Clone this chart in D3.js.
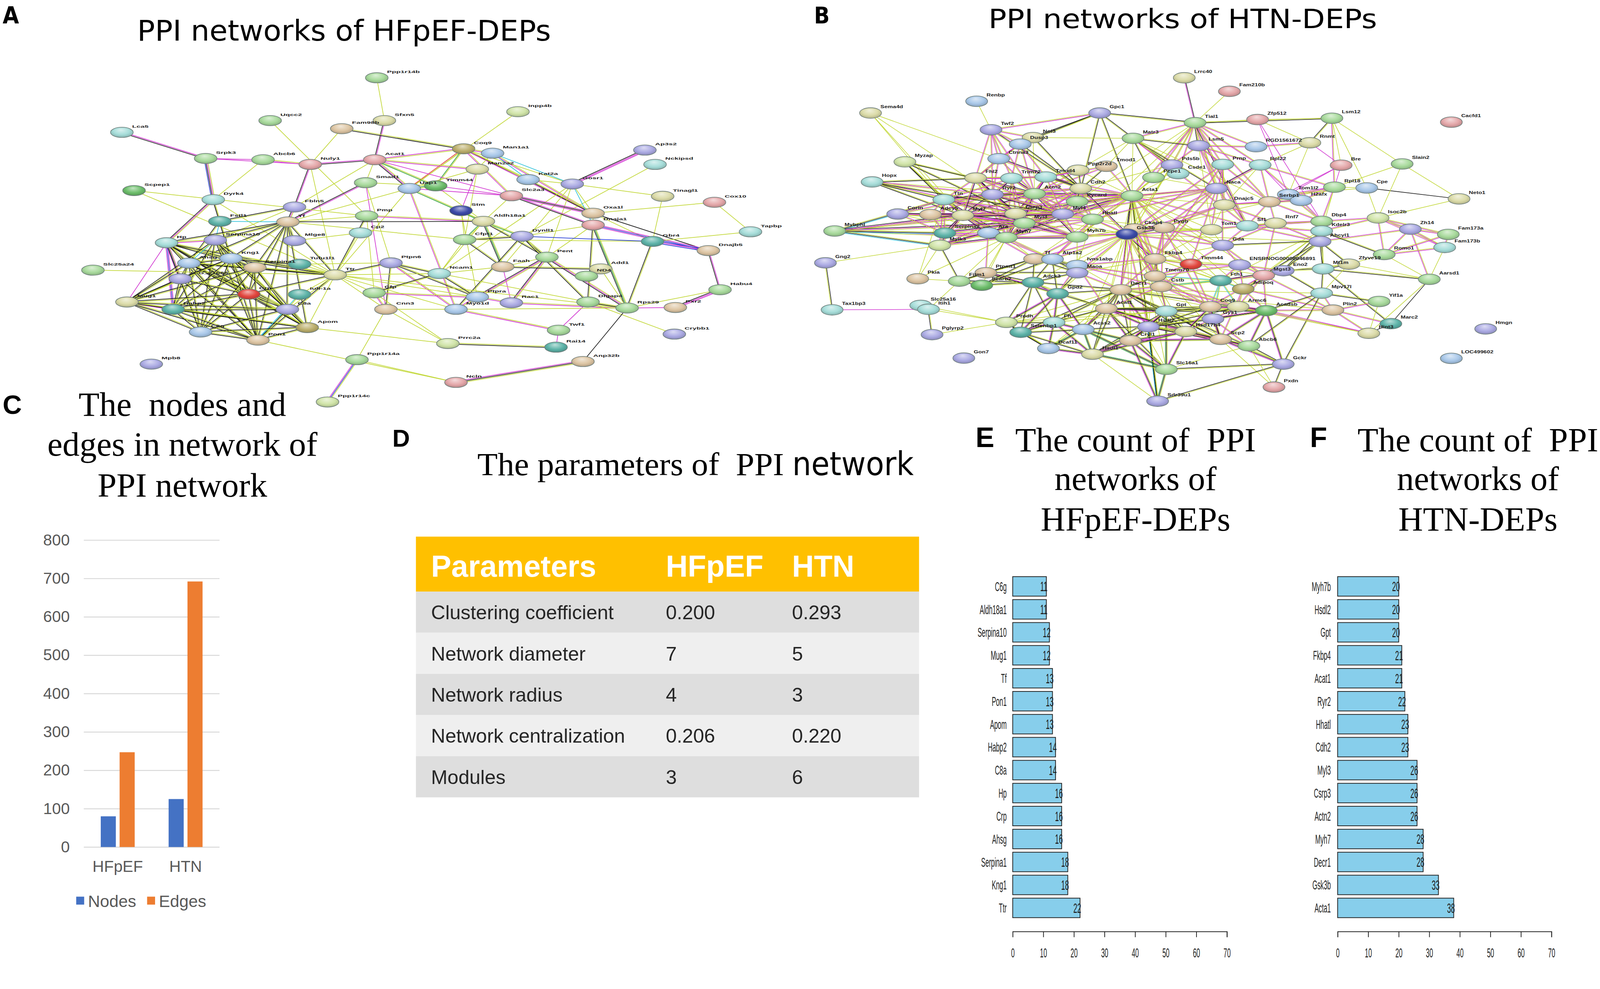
<!DOCTYPE html>
<html>
<head>
<meta charset="utf-8">
<script src="https://cdn.jsdelivr.net/npm/d3@7"></script>
<style>
html, body { margin: 0; padding: 0; background: #fff; overflow: hidden; }
#fig { display: block; width: 100vw; height: 100vh; }
svg text { white-space: pre; }
</style>
</head>
<body>
<svg id="fig" viewBox="0 0 4220 2533" preserveAspectRatio="xMinYMin meet"></svg>
<script>
// ---- panel C : nodes and edges per network
var groups = ["HFpEF", "HTN"];
var seriesNames = ["Nodes", "Edges"];
var nodeCounts = [80, 125];
var edgeCounts = [247, 692];
var countTicks = [0, 100, 200, 300, 400, 500, 600, 700, 800];

// ---- panel D : network parameters
var paramHeader = ["Parameters", "HFpEF", "HTN"];
var paramNames = ["Clustering coefficient", "Network diameter", "Network radius", "Network centralization", "Modules"];
var paramHFpEF = ["0.200", "7", "4", "0.206", "3"];
var paramHTN = ["0.293", "5", "3", "0.220", "6"];

// ---- panels E, F : hub degree
var hfpefGenes = ["C6g", "Aldh18a1", "Serpina10", "Mug1", "Tf", "Pon1", "Apom", "Habp2", "C8a", "Hp", "Crp", "Ahsg", "Serpina1", "Kng1", "Ttr"];
var hfpefDegree = [11, 11, 12, 12, 13, 13, 13, 14, 14, 16, 16, 16, 18, 18, 22];
var htnGenes = ["Myh7b", "Hsdl2", "Gpt", "Fkbp4", "Acat1", "Ryr2", "Hhatl", "Cdh2", "Myl3", "Csrp3", "Actn2", "Myh7", "Decr1", "Gsk3b", "Acta1"];
var htnDegree = [20, 20, 20, 21, 21, 22, 23, 23, 26, 26, 26, 28, 28, 33, 38];
var degreeTicks = [0, 10, 20, 30, 40, 50, 60, 70];

// ---- panels A, B : STRING layouts, [name, layout x, layout y, colour code]
var hfpefNodes = [
 ["Ppp1r14b",742,298,"g"], ["Inpp4b",1020,428,"l"], ["Uqcc2",532,462,"g"], ["Sfxn5",757,462,"k"],
 ["Fam98b",673,493,"t"], ["Lca5",240,507,"c"], ["Coq9",913,570,"o"], ["Man1a1",970,587,"b"],
 ["Ap3s2",1270,575,"v"], ["Srpk3",405,607,"g"], ["Abcb6",518,612,"g"], ["Nuly1",611,630,"p"],
 ["Acat1",738,612,"p"], ["Nckipsd",1290,630,"c"], ["Man2a2",940,648,"k"], ["Smad1",720,700,"g"],
 ["Kat2a",1040,688,"b"], ["Gosr1",1127,705,"v"], ["Timm44",858,712,"G"], ["Uap1",806,722,"b"],
 ["Scpep1",264,730,"G"], ["Slc2a3",1007,750,"p"], ["Tinagl1",1305,752,"k"], ["Cox10",1407,775,"p"],
 ["Dyrk4",420,765,"c"], ["Fbln5",580,793,"v"], ["Stm",908,807,"d"], ["Pmp",722,827,"g"],
 ["Oxa1l",1168,817,"t"], ["Fstl1",433,848,"T"], ["Tf",567,850,"t"], ["Aldh18a1",952,848,"k"],
 ["Dnaja1",1168,862,"p"], ["Tapbp",1478,888,"c"], ["Cp2",710,892,"c"], ["Mlge8",580,922,"v"],
 ["Serpina10",424,920,"v"], ["Hp",328,930,"c"], ["Cfpt1",915,918,"g"], ["Dynll1",1028,905,"v"],
 ["Gbr4",1285,925,"T"], ["Dnajb5",1395,960,"t"], ["Pent",1077,985,"g"], ["Ahsg",372,1008,"b"],
 ["Kng1",455,990,"b"], ["Slc25a24",183,1035,"g"], ["Serpina1",502,1025,"t"], ["Tufu1l1",590,1012,"T"],
 ["Ptpn6",770,1007,"v"], ["Faah",990,1022,"t"], ["Add1",1183,1030,"k"], ["ND4",1155,1058,"g"],
 ["rCG_21066",355,1068,"v"], ["Ttr",660,1053,"k"], ["Ncam1",865,1048,"c"], ["Crp",490,1127,"r"],
 ["Iuli-1a",590,1128,"T"], ["Cfp",737,1122,"g"], ["Ptpra",940,1138,"b"], ["Rac1",1007,1160,"v"],
 ["Dlgap4",1158,1157,"g"], ["Habu4",1418,1110,"g"], ["Mug1",250,1157,"k"], ["Habp2",341,1185,"T"],
 ["C8a",566,1185,"v"], ["Cnn3",760,1185,"t"], ["Myo1d",898,1185,"b"], ["Rps29",1235,1180,"g"],
 ["Pxr2",1330,1178,"t"], ["Twf1",1100,1265,"g"], ["Crybb1",1328,1280,"v"], ["Apom",605,1255,"o"],
 ["C8g",395,1272,"b"], ["Pon1",508,1303,"t"], ["Prrc2a",882,1316,"l"], ["Rai14",1095,1330,"T"],
 ["Mpb8",298,1395,"v"], ["Ppp1r14a",703,1378,"g"], ["Anp32b",1148,1385,"t"], ["Ncln",898,1465,"p"],
 ["Ppp1r14c",645,1540,"l"]
];

// "source|default evidence > target target:evidence ..."
var hfpefLinks = [
 "Ppp1r14b|y > Sfxn5", "Sfxn5|mk > Acat1", "Inpp4b|y > Uap1", "Uqcc2|y > Pmp",
 "Fam98b|yk > Coq9 Nuly1:y", "Lca5|mk > Srpk3",
 "Coq9|ym > Man1a1 Acat1 Kat2a:yk Oxa1l Slc2a3 Uap1:yr Timm44:yg Gosr1:y",
 "Man1a1|yc > Kat2a:c Oxa1l:ym Man2a2:y Gosr1:c",
 "Ap3s2|mmk > Gosr1",
 "Srpk3|ym > Abcb6:m Dyrk4:ymkb Nuly1:m",
 "Abcb6|y > Nuly1:ym Dyrk4",
 "Nuly1|mk > Acat1 Fbln5 Ttr:y",
 "Acat1|y > Uap1:ymk Man2a2:ym Slc2a3:m Smad1 Fbln5 Timm44:yg",
 "Nckipsd|y > Dynll1",
 "Man2a2|y > Stm:m Cfpt1 Uap1",
 "Smad1|y > Timm44 Tf:mk Ptpn6 Cnn3:m",
 "Kat2a|yk > Oxa1l Gosr1:y",
 "Gosr1|y > Oxa1l Faah Pent Ncam1 Dnaja1:c",
 "Timm44|y > Uap1:yg Slc2a3:m Aldh18a1",
 "Uap1|y > Ttr Aldh18a1:yg Slc2a3:m Myo1d:ym Tf",
 "Scpep1|y > Ttr Pmp",
 "Slc2a3|mk > Oxa1l:mkm Dnaja1 Aldh18a1:y",
 "Tinagl1|y > Gbr4 Gosr1", "Cox10|y > Oxa1l Tapbp",
 "Dyrk4|yk > Fstl1 Hp:ymk Ttr:y Kng1",
 "Fbln5|yk > Fstl1 Tf:ymk Serpina10:y",
 "Stm|y > Aldh18a1 Ptpra Cfpt1",
 "Pmp|y > Tf Ttr:yk Cfp Aldh18a1:ym",
 "Oxa1l|y > Dnaja1 Gbr4 Dnajb5:k",
 "Fstl1|yk > Tf:c Serpina10:c Ahsg Kng1",
 "Tf|yk > Hp Serpina10 Kng1 Ahsg Serpina1 Crp C8a Mlge8 Ttr Apom Pon1 Aldh18a1:k Cfpt1:y",
 "Aldh18a1|yg > Dynll1 Faah:ygk Cfpt1 Pent:yk Ncam1:y",
 "Dnaja1|mk > Dnajb5:mbm Dynll1:y Rps29:ygk Dlgap4:yk Pent:y",
 "Cp2|y > Mlge8 Ttr",
 "Hp|yk > Serpina10:ym Ahsg Kng1 rCG_21066:mbm Mug1:m Habp2:mbm C8g Crp Pon1 Serpina1 Apom C8a Ttr",
 "Serpina10|yk > Ahsg:c Kng1 Serpina1 Crp Habp2 Pon1 C8g Apom Mug1 C8a",
 "Cfpt1|yk > Dynll1 Faah Gbr4:y Ncam1:y",
 "Dynll1|yk > Gbr4:b Pent Dlgap4 Myo1d",
 "Gbr4|y > Dnajb5:bmb Rps29:yk Tapbp",
 "Dnajb5|mk > Habu4",
 "Pent|ymk > Faah:y Ptpra Rac1 Rps29",
 "Ahsg|yk > Kng1 rCG_21066 Mug1 Habp2 C8g Crp Pon1 Serpina1 Apom C8a Ttr",
 "Kng1|yk > rCG_21066 Serpina1 Crp Pon1 C8g Habp2 Apom C8a Mug1 Ttr Tufu1l1",
 "Slc25a24|y > Ttr",
 "Serpina1|yk > Crp Pon1 Apom C8a C8g Habp2 Ttr Mug1",
 "Tufu1l1|y > Ttr Ptpn6",
 "Ptpn6|yk > Ttr Myo1d:ym Cnn3 Ptpra Ncam1",
 "Faah|y > Ncam1 Rac1:m Add1:yk",
 "Add1|y > ND4 Rps29",
 "rCG_21066|yk > Mug1 Habp2 C8g Crp Pon1",
 "Ttr|y > Crp:yk Apom Pon1:yk C8a Iuli-1a Cfp Ncam1 Cnn3 Myo1d Rps29 Ptpra",
 "Ncam1|yk > Ptpra Cfp Dlgap4:y",
 "Crp|yk > C8a Pon1 Apom C8g Habp2 Mug1",
 "Iuli-1a|y > C8a Pon1:yc",
 "Cfp|ym > Cnn3 Prrc2a:y Ptpra",
 "Ptpra|ym > Myo1d Rac1",
 "Rac1|ym > Rps29",
 "Dlgap4|ym > Twf1:m Rps29:yk Crybb1:y",
 "Habu4|mmk > Pxr2 Rps29:y",
 "Mug1|yk > Habp2:ym C8g Pon1 Crp Apom C8a",
 "Habp2|yk > C8g Pon1 C8a Apom",
 "C8a|yk > Apom Pon1:ykc C8g",
 "Cnn3|y > Ppp1r14a Prrc2a Myo1d",
 "Myo1d|ym > Twf1 Rps29:y",
 "Rps29|k > Anp32b Pxr2:m",
 "Twf1|m > Rai14",
 "Apom|yk > Pon1 C8g Prrc2a:y",
 "C8g|yk > Pon1",
 "Pon1|y > Ncln",
 "Prrc2a|yk > Rai14",
 "Ppp1r14a|ybm > Ppp1r14c Ncln:y",
 "Anp32b|ykm > Ncln"
];

var htnNodes = [
 ["Lrrc40",757,298,"k"], ["Fam210b",845,350,"p"], ["Renbp",352,388,"b"], ["Sema4d",145,433,"k"],
 ["Gpc1",592,433,"v"], ["Zfp512",900,458,"p"], ["Tial1",778,470,"g"], ["Lsm12",1045,453,"g"],
 ["Cacfd1",1278,468,"p"], ["Twf2",380,497,"v"], ["Nol3",462,527,"k"], ["Dusp3",437,552,"b"],
 ["Matr3",657,530,"g"], ["Lsm5",785,558,"v"], ["RGD1561672",897,562,"b"], ["Rnmt",1002,547,"k"],
 ["Myzap",212,620,"l"], ["Ctnna3",395,608,"b"], ["Tmod1",605,637,"t"], ["Ppp2r2d",550,652,"k"],
 ["Pds5b",733,632,"v"], ["Prnp",832,630,"c"], ["Rpl22",905,632,"c"], ["Bre",1063,633,"p"],
 ["Slain2",1182,628,"g"], ["Hopx",148,697,"c"], ["Fhl2",350,682,"k"], ["Trim72",420,683,"c"],
 ["Tmod4",487,678,"c"], ["Csde1",745,665,"c"], ["Pcpe1",697,680,"g"], ["Cdh2",555,722,"k"],
 ["Naca",820,722,"v"], ["Rpl18",1050,717,"g"], ["Cpe",1113,720,"b"], ["Actn2",465,742,"g"],
 ["Acta1",655,750,"g"], ["Ttn",288,765,"c"], ["Ryr2",383,745,"v"], ["Tom1l2",960,745,"b"],
 ["Serbp1",923,773,"t"], ["H2afx",985,768,"b"], ["Pycard",548,772,"g"], ["Dnajc5",835,785,"k"],
 ["Neto1",1293,762,"k"], ["Corin",198,820,"v"], ["Adcy5",262,822,"t"], ["Myl7",325,825,"k"],
 ["Csrp3",428,818,"k"], ["Myl4",520,820,"v"], ["Isoc2b",1135,835,"l"], ["Hhatl",578,840,"g"],
 ["Dbp4",1025,848,"g"], ["Rnf7",935,855,"k"], ["Sf1",880,865,"c"], ["Myl3",445,855,"g"],
 ["Tom1",810,880,"k"], ["Ckap4",660,877,"t"], ["Pygb",717,872,"t"], ["Zh14",1198,878,"v"],
 ["Mybphl",75,885,"g"], ["Kdelr3",1025,885,"c"], ["Gsk3b",645,897,"d"], ["Fam173a",1272,898,"g"],
 ["Serpina2",290,893,"T"], ["Ara",375,892,"b"], ["Myh7b",548,908,"g"], ["Myh7",410,910,"g"],
 ["Ahcyl1",1022,925,"v"], ["Fam173b",1265,948,"c"], ["Mylk3",280,940,"l"], ["Gda",832,940,"v"],
 ["Gng2",57,1007,"v"], ["Romo1",1147,975,"g"], ["Tf",465,992,"t"], ["Atp1a2",500,993,"b"],
 ["Fkbp4",700,992,"t"], ["Timm44",770,1012,"r"], ["ENSRNOG00000046891",865,1015,"v"], ["Zfyve19",1078,1012,"k"],
 ["Ivns1abp",548,1017,"b"], ["Ptpmt1",370,1045,"t"], ["Maoa",548,1045,"v"], ["Mt1m",1028,1030,"c"],
 ["Eno2",950,1037,"v"], ["Mgst3",912,1055,"p"], ["Pkia",237,1068,"t"], ["Fitm1",318,1077,"g"],
 ["Scarb2",362,1093,"G"], ["Tmem70",700,1058,"t"], ["Fth1",828,1075,"T"], ["Adipoq",872,1107,"o"],
 ["Aarsd1",1235,1070,"g"], ["Adck3",462,1082,"T"], ["Cstb",712,1098,"t"], ["Decr1",633,1110,"t"],
 ["Mpv17l",1025,1123,"c"], ["Gpd2",510,1125,"T"], ["Yif1a",1137,1155,"g"], ["Tax1bp3",70,1187,"c"],
 ["Slc25a16",243,1170,"c"], ["Itih1",258,1185,"c"], ["Acat1",605,1182,"t"], ["Coq9",808,1175,"t"],
 ["Armc6",862,1175,"k"], ["Gpt",722,1192,"c"], ["Acadsb",917,1190,"G"], ["Plin2",1047,1188,"t"],
 ["Prodh",410,1235,"l"], ["Fh",503,1235,"c"], ["Gys1",813,1222,"v"], ["Marc2",1160,1240,"T"],
 ["Acss2",560,1262,"b"], ["Hsdl2",687,1252,"v"], ["Hsd17b4",760,1270,"k"], ["Hint3",1117,1277,"k"],
 ["Hmgn",1345,1260,"v"], ["Pglyrp2",265,1282,"v"], ["Selenbp1",438,1273,"T"], ["Cryl1",652,1305,"t"],
 ["Scp2",828,1300,"t"], ["Abcb6",883,1325,"g"], ["Dcaf11",492,1335,"b"], ["Hsdl1",578,1357,"k"],
 ["Gon7",327,1372,"v"], ["LOC499602",1278,1373,"b"], ["Gckr",950,1395,"v"], ["Slc16a1",722,1415,"g"],
 ["Pxdn",932,1483,"p"], ["Sdr39u1",705,1537,"v"]
];

var htnLinks = [
 "Acta1|ym > Actn2:ymk Myh7:ymk Myh7b Myl3:ymk Myl4 Myl7 Csrp3:ymk Ryr2 Ttn Cdh2 Hhatl Pycard:y Tmod1 Tmod4 Ppp2r2d:y Matr3:y Gpc1:yk Tial1 Pcpe1:y Csde1:y Gsk3b:ymk Ckap4:y Pygb Fkbp4 Timm44:y Tmem70:y Decr1:yk Acat1:y Gpt:y Hsdl2:y Cryl1:y Slc16a1:y Sdr39u1:yk Naca Dnajc5:y Tom1:y Sf1 Gda:y Mgst3:y Adipoq:y Fth1:y Cstb:y",
 "Gsk3b|ym > Ckap4 Pygb:ymk Myh7b Hhatl Myl3:y Myh7 Csrp3:y Actn2 Cdh2:ymk Fkbp4:ymk Timm44 Tmem70 Decr1 Acat1:y Gpt:y Cstb Fth1:y Maoa Ivns1abp:y Atp1a2 Tf Gpd2:y Adck3:y Acss2:y Hsdl2 Cryl1:y Hsd17b4:y Scp2:y Tom1 Gda:ym Serbp1:y Sf1:y Ahcyl1:y",
 "Decr1|yk > Acat1:ykm Gpt Hsdl2:ykm Hsd17b4 Scp2:yk Acadsb Acss2 Cryl1 Hsdl1 Prodh:y Fh Gpd2 Adck3 Coq9:y Mgst3:y Maoa:ym Ivns1abp:y Fkbp4:ym Timm44:y Tmem70 Cstb:ym Fth1:y Mpv17l:y Plin2:y Abcb6 Slc16a1:y Selenbp1 Dcaf11:y",
 "Myh7|ymk > Myh7b Myl3 Myl4 Myl7 Actn2 Csrp3 Ryr2:ym Ttn Mybphl:ym Mylk3 Serpina2:ym Ara:ym Hhatl:ym Cdh2:ym Corin:y Adcy5:y Fhl2:ym Trim72:ym Tmod4:ym Pycard:ym Atp1a2:ym Tf:y Fitm1:y Scarb2:y Ptpmt1:y Pkia:y",
 "Actn2|ymk > Myl3 Myl4 Myl7 Csrp3 Ryr2 Ttn Cdh2:ym Pycard:ym Fhl2 Trim72 Tmod4 Tmod1:ym Ctnna3:ym Hopx:y Myzap:y Dusp3:ym Twf2:ym Nol3:y Hhatl:ym Myh7b Ppp2r2d:ym",
 "Csrp3|ymk > Myl3 Myl4 Myl7 Ryr2 Ttn Fhl2 Trim72:ym Tmod4:ym Hopx:ym Corin:ym Adcy5:ym Mybphl:ym Hhatl:ym Cdh2:ym Myh7b Ara:ym Serpina2:ym Mylk3:ym",
 "Myl3|ymk > Myl4 Myl7 Ryr2 Ttn Mybphl Mylk3 Hhatl:ym Myh7b Cdh2:ym Corin:ym Adcy5:ym Ara Serpina2 Fhl2:ym Trim72:ym",
 "Cdh2|yk > Ctnna3:ymk Pycard Hhatl:ym Ppp2r2d Tmod1 Tmod4 Gpc1 Twf2 Dusp3 Nol3 Ryr2:ym Myl4:ym",
 "Hhatl|ym > Myh7b Myl4 Ryr2 Pycard Ckap4:y Pygb:y Tf:y Atp1a2 Ivns1abp:y",
 "Ryr2|ymk > Ttn Fhl2 Trim72 Myl7 Myl4 Adcy5:ym Corin:ym Hopx:ym Ctnna3:ym Twf2:ym",
 "Myh7b|ym > Myl4 Myl7 Ckap4:y Atp1a2 Tf Ivns1abp:y Maoa:y",
 "Fkbp4|ym > Timm44 Tmem70 Pygb Ckap4 Ivns1abp Maoa:y Cstb Gpt:yk Hsdl2:y Tom1:y Gda:y Fth1:y Adipoq:y Mgst3:y ENSRNOG00000046891:y",
 "Acat1|ykm > Gpt Hsdl2 Hsd17b4 Scp2 Acadsb:yk Acss2 Cryl1 Hsdl1:yk Prodh:y Fh:yk Gpd2:yk Adck3:y Coq9:yk Selenbp1:y Dcaf11:y Slc16a1:yk",
 "Gpt|yk > Hsdl2:ykm Hsd17b4 Scp2 Acadsb Cryl1:ykm Hsdl1 Prodh:y Fh:y Gckr:y Gys1:y Armc6:y Coq9 Slc16a1:ykg",
 "Hsdl2|yk > Hsd17b4:ykm Scp2:ykm Acadsb Cryl1:ykm Acss2 Gys1 Coq9 Armc6 Abcb6 Sdr39u1:ykc Hsdl1",
 "Tial1|ym > Lrrc40:mk Fam210b:y Matr3 Lsm5:ymk Lsm12:yk Zfp512:y RGD1561672 Gpc1:yk Pds5b Prnp Rpl22 Naca Dnajc5:y Tom1:y Sf1:ymk Serbp1 Csde1 Pcpe1 Hhatl:y Pycard:y Ckap4:y",
 "Matr3|yk > Lsm5 Gpc1 Pds5b Csde1:ym Pcpe1 Naca Tmod1:y Ppp2r2d:y Sf1:ym Serbp1:y Nol3:y",
 "Lsm5|ym > Pds5b Prnp Naca Rpl22 RGD1561672 Serbp1 Sf1",
 "Lsm12|yk > Rnmt Bre:y Rpl18:ym Zfp512:y Slain2:y Cpe:y",
 "Rnmt|y > Zfp512 Rpl22 RGD1561672:ym Tom1l2 Bre:m",
 "Rpl22|ym > Rpl18 Naca:ymk Serbp1 Tom1l2:m H2afx Dnajc5:y",
 "Rpl18|ym > Cpe:y Slain2:y Tom1l2 H2afx Serbp1 Dbp4 Kdelr3:y",
 "Cpe|y > Neto1:k Isoc2b Tom1l2",
 "Serbp1|ym > H2afx Tom1l2 Dnajc5 Sf1 Rnf7 Dbp4",
 "Sf1|ym > Rnf7 Tom1 Gda Dbp4 Kdelr3 Ahcyl1 Naca",
 "Tom1|y > Gda Pygb Ckap4 Dnajc5",
 "Isoc2b|ym > Zh14 Fam173a Fam173b Dbp4 Kdelr3 Romo1",
 "Zh14|ym > Fam173a Fam173b Romo1 Aarsd1 Ahcyl1",
 "Neto1|y > Isoc2b",
 "Kdelr3|yk > Ahcyl1 Dbp4 Eno2 Mt1m Romo1 Mgst3:y Fth1:y Adipoq:y",
 "Ahcyl1|yk > Eno2 Mt1m Gda Mgst3 Zfyve19",
 "Gda|ym > ENSRNOG00000046891 Timm44 Mgst3",
 "Mt1m|yk > Zfyve19 Eno2 Mpv17l Aarsd1 Marc2",
 "Eno2|yk > Mgst3 Fth1 Adipoq Mpv17l",
 "Mgst3|ym > Fth1 Adipoq Acadsb Armc6 Coq9 Plin2",
 "Fth1|yc > Adipoq Cstb Tmem70 Coq9 Armc6 Gys1",
 "Adipoq|ym > Plin2 Acadsb Armc6 Scp2",
 "Plin2|ym > Mpv17l Yif1a Hint3 Marc2 Acadsb",
 "Mpv17l|yk > Yif1a Acadsb Abcb6 Gckr",
 "Marc2|k > Hint3 Aarsd1",
 "Yif1a|y > Hint3",
 "Aarsd1|y > Hint3 Romo1 Fam173b",
 "Acadsb|ykm > Scp2 Abcb6 Gckr Coq9 Armc6 Gys1",
 "Scp2|ykm > Hsd17b4 Abcb6 Gckr Cryl1 Gys1 Pxdn:y",
 "Timm44|ym > Tmem70 ENSRNOG00000046891 Cstb Coq9",
 "Tmem70|ym > Cstb Coq9 Armc6",
 "Maoa|yk > Ivns1abp Adck3 Gpd2 Atp1a2 Tf Ptpmt1",
 "Adck3|yk > Gpd2 Ptpmt1 Scarb2 Fitm1 Prodh Fh Selenbp1",
 "Gpd2|ykm > Fh Prodh Acss2 Selenbp1 Ptpmt1",
 "Prodh|yk > Fh Selenbp1 Itih1:y Slc25a16:y Pglyrp2:y Dcaf11",
 "Fh|ykm > Acss2 Selenbp1 Dcaf11 Hsdl1",
 "Acss2|ykg > Hsdl1 Cryl1 Dcaf11 Slc16a1",
 "Cryl1|ykm > Hsdl1 Slc16a1 Hsd17b4 Sdr39u1",
 "Tax1bp3|yk > Gng2 Itih1:m",
 "Itih1|y > Slc25a16 Pglyrp2:yk Fitm1",
 "Pkia|y > Fitm1 Ttn Mylk3",
 "Fitm1|yk > Scarb2 Ptpmt1 Mylk3",
 "Sema4d|y > Ctnna3 Myl7 Ryr2 Ttn",
 "Renbp|y > Twf2",
 "Myzap|yk > Fhl2 Myl7 Csrp3 Ttn",
 "Hopx|yk > Ttn Myl7 Fhl2 Myl4",
 "Mybphl|ykc > Serpina2 Mylk3 Ttn",
 "Gng2|y > Mylk3",
 "Twf2|ym > Dusp3 Nol3 Ctnna3 Fhl2 Trim72 Gpc1",
 "Gpc1|yk > Nol3 Dusp3",
 "Dusp3|ym > Nol3 Ctnna3 Fhl2 Trim72 Tmod4",
 "Pcpe1|y > Csde1 Pds5b Naca",
 "Gckr|yk > Sdr39u1 Slc16a1 Pxdn Abcb6",
 "Slc16a1|ykg > Sdr39u1 Hsdl1",
 "Naca|ym > Myl4 Hhatl Pycard Gsk3b Fkbp4 Timm44 Pygb",
 "Pds5b|y > Acta1 Cdh2 Myh7b Gsk3b Ckap4",
 "Prnp|ym > Gsk3b Tom1 Dnajc5 Gda Fkbp4",
 "Zfp512|m > Tom1l2 Dbp4",
 "Ttn|ym > Fhl2 Trim72 Mylk3 Serpina2 Corin Adcy5 Mybphl Myl7 Myl4",
 "Myl7|ymk > Myl4 Corin Adcy5 Fhl2 Mybphl Serpina2 Ara Mylk3",
 "Myl4|ym > Pycard Fhl2 Tmod4 Trim72 Ara",
 "Fhl2|ym > Trim72 Tmod4 Ctnna3 Hopx",
 "Tmod4|ym > Trim72 Tmod1 Ppp2r2d Pycard",
 "Serpina2|ym > Ara Mylk3 Corin Adcy5",
 "Ara|ym > Mylk3 Atp1a2 Tf Ptpmt1",
 "Atp1a2|yk > Tf Ivns1abp Maoa Adck3 Gpd2 Scarb2",
 "Tf|yk > Ivns1abp Ptpmt1 Adck3 Fitm1 Scarb2",
 "Ckap4|ym > Pygb Tmem70 Cstb Decr1 Fkbp4",
 "Pygb|ym > Tom1 Gda Tmem70 Fkbp4 Cstb Gys1",
 "Ivns1abp|ym > Tmem70 Decr1 Cstb Gpd2 Acat1",
 "Cstb|ym > Coq9 Gpt Acat1 Armc6",
 "Coq9|ykm > Armc6 Gys1 Hsd17b4 Scp2",
 "Gys1|ym > Hsd17b4 Armc6 Abcb6",
 "Hsd17b4|ykm > Cryl1 Abcb6 Slc16a1 Hsdl1",
 "Selenbp1|yk > Dcaf11 Hsdl1 Acss2",
 "Dcaf11|ykm > Hsdl1",
 "Abcb6|y > Gckr Pxdn Slc16a1",
 "Sdr39u1|y > Hsdl1",
 "Hint3|ym > Armc6 Plin2 Acadsb",
 "Dbp4|ym > Rnf7 Kdelr3 Ahcyl1 Tom1l2 H2afx",
 "H2afx|ym > Tom1l2 Dnajc5 Dbp4",
 "Dnajc5|ym > Tom1 Rnf7 Gsk3b Pygb",
 "Rnf7|ym > Gda Ahcyl1 Mgst3",
 "ENSRNOG00000046891|ym > Mgst3 Eno2 Fth1 Adipoq Tmem70",
 "Zfyve19|y > Romo1 Eno2 Mpv17l Aarsd1",
 "Romo1|ym > Fam173a Fam173b",
 "Fam173a|ym > Fam173b",
 "Slain2|y > Isoc2b Neto1",
 "Bre|m > Rpl18 Tom1l2 Serbp1"
];

var nodeColour = {
  g: "#a8da9c", G: "#6cbd6a", l: "#d0e4a8", c: "#a6ddd9", b: "#a9c8e9", v: "#abaae3",
  t: "#ddc5a3", p: "#e4a7a9", k: "#dbdba8", o: "#bbae6c", T: "#5db3a8", r: "#e2463e", d: "#3b4aa8"
};
var edgeColour = { y: "#c3d83b", k: "#222222", m: "#d23ad2", c: "#35c3dc", g: "#2e9e3a", b: "#2a3fd6", r: "#e23b3b" };

var svg = d3.select("#fig");
svg.append("rect").attr("width", 4220).attr("height", 2533).attr("fill", "#fff");

var defs = svg.append("defs");
Object.keys(nodeColour).forEach(function(k) {
  var base = nodeColour[k];
  var grad = defs.append("radialGradient").attr("id", "ng-" + k)
    .attr("cx", "50%").attr("cy", "45%").attr("r", "60%").attr("fx", "45%").attr("fy", "25%");
  grad.append("stop").attr("offset", "0%").attr("stop-color", d3.interpolateRgb(base, "#ffffff")(0.6));
  grad.append("stop").attr("offset", "60%").attr("stop-color", base);
  grad.append("stop").attr("offset", "100%").attr("stop-color", d3.color(base).darker(0.7));
});

var sans = "'Liberation Sans', Arial, sans-serif";
var serif = "'Liberation Serif', 'Times New Roman', serif";
var narrow = "'Liberation Sans Narrow', 'DejaVu Sans Condensed', sans-serif";

function parseLinks(lists) {
  var out = [], seen = {};
  lists.forEach(function(s) {
    var parts = s.split(" > ");
    var head = parts[0].split("|");
    var src = head[0], def = head[1];
    parts[1].trim().split(/\s+/).forEach(function(tok) {
      var bits = tok.split(":");
      var key = [src, bits[0]].sort().join("~");
      if (seen[key]) return;
      seen[key] = true;
      out.push({ s: src, t: bits[0], code: bits[1] || def });
    });
  });
  return out;
}

function drawNetwork(root, nodes, lists, xs, ys, look) {
  var byName = {};
  nodes.forEach(function(d) {
    byName[d[0]] = { name: d[0], x: xs(d[1]), y: ys(d[2]), col: d[3] };
  });
  var strands = [];
  parseLinks(lists).forEach(function(l) {
    var a = byName[l.s], b = byName[l.t];
    if (!a || !b) { console.warn("missing", l.s, l.t); return; }
    var dx = b.x - a.x, dy = b.y - a.y, len = Math.sqrt(dx * dx + dy * dy) || 1;
    var nx = -dy / len, ny = dx / len;
    l.code.split("").forEach(function(c, i) {
      var off = (i - (l.code.length - 1) / 2) * look.gap;
      strands.push({ x1: a.x + nx * off, y1: a.y + ny * off, x2: b.x + nx * off, y2: b.y + ny * off, c: edgeColour[c] });
    });
  });
  root.append("g").selectAll("line").data(strands).join("line")
    .attr("x1", function(d) { return d.x1; }).attr("y1", function(d) { return d.y1; })
    .attr("x2", function(d) { return d.x2; }).attr("y2", function(d) { return d.y2; })
    .attr("stroke", function(d) { return d.c; })
    .attr("stroke-width", look.lw);

  var pts = nodes.map(function(d) { return byName[d[0]]; });
  root.append("g").selectAll("ellipse").data(pts).join("ellipse")
    .attr("cx", function(d) { return d.x; }).attr("cy", function(d) { return d.y; })
    .attr("rx", look.rx).attr("ry", look.ry)
    .attr("fill", function(d) { return "url(#ng-" + d.col + ")"; })
    .attr("stroke", "#6f7f7c").attr("stroke-width", 1.6);
  root.append("g").selectAll("text").data(pts).join("text")
    .attr("transform", function(d) {
      return "translate(" + (d.x + look.rx - 3) + "," + (d.y - look.ry + 1) + ") scale(" + look.sx + ",1)";
    })
    .attr("font-family", sans).attr("font-weight", "bold")
    .attr("font-size", look.fs).attr("fill", "#222")
    .text(function(d) { return d.name; });
}

// ---- panel letters
function panelLetter(x, y, s, size, fam) {
  svg.append("text").attr("x", x).attr("y", y)
    .attr("font-family", fam || sans).attr("font-weight", "bold").attr("font-size", size)
    .attr("fill", "#000").text(s);
}
panelLetter(7, 62, "A", 62, narrow);
panelLetter(2147, 62, "B", 60, narrow);
panelLetter(7, 1092, "C", 70);
panelLetter(1035, 1179, "D", 64);
panelLetter(2573, 1180, "E", 74);
panelLetter(3455, 1180, "F", 74);

// ---- panels A and B
svg.append("text").attr("x", 362).attr("y", 107)
  .attr("font-family", narrow).attr("font-size", 76)
  .attr("textLength", 1091).attr("lengthAdjust", "spacingAndGlyphs")
  .text("PPI networks of HFpEF-DEPs");
svg.append("text").attr("x", 2607).attr("y", 74)
  .attr("font-family", narrow).attr("font-size", 70)
  .attr("textLength", 1025).attr("lengthAdjust", "spacingAndGlyphs")
  .text("PPI networks of HTN-DEPs");

var layoutX_A = d3.scaleLinear().domain([0, 1568]).range([0, 2100]);
var layoutY_A = d3.scaleLinear().domain([0, 1568]).range([0, 1080]);
var layoutX_B = d3.scaleLinear().domain([0, 1568]).range([2100, 4220]);
var layoutY_B = d3.scaleLinear().domain([0, 1568]).range([0, 1080]);

drawNetwork(svg.append("g"), hfpefNodes, hfpefLinks, layoutX_A, layoutY_A,
  { rx: 30, ry: 13.5, lw: 1.8, gap: 2.8, fs: 9.5, sx: 2.0 });
drawNetwork(svg.append("g"), htnNodes, htnLinks, layoutX_B, layoutY_B,
  { rx: 29, ry: 14, lw: 1.6, gap: 2.4, fs: 12, sx: 1.3 });

// ---- panel C
function titleLines(lines, cx, baselines, size) {
  lines.forEach(function(s, i) {
    svg.append("text").attr("x", cx).attr("y", baselines[i])
      .attr("text-anchor", "middle").attr("font-family", serif)
      .attr("font-size", size).attr("fill", "#000").text(s);
  });
}
titleLines(["The  nodes and", "edges in network of", "PPI network"], 481, [1097, 1202, 1310], 90);

var cY = d3.scaleLinear().domain([0, 800]).range([2235, 1425]);
var cX = d3.scaleBand().domain(groups).range([221, 579]).paddingInner(0.5).paddingOuter(0.25);
var cX1 = d3.scaleBand().domain(seriesNames).range([0, cX.bandwidth()]).paddingInner(0.2);
var cColour = d3.scaleOrdinal().domain(seriesNames).range(["#4472c4", "#ed7d31"]);

var cGrid = svg.append("g").attr("transform", "translate(221,0)")
  .call(d3.axisLeft(cY).tickValues(countTicks).tickSize(-(579 - 221)).tickPadding(37));
cGrid.select(".domain").remove();
cGrid.selectAll("line").attr("stroke", "#d9d9d9").attr("stroke-width", 2.5);
cGrid.selectAll("text").attr("font-family", sans).attr("font-size", 42).attr("fill", "#595959");

var cRows = groups.map(function(g, i) { return { g: g, v: [nodeCounts[i], edgeCounts[i]] }; });
svg.append("g").selectAll("g").data(cRows).join("g")
  .attr("transform", function(d) { return "translate(" + cX(d.g) + ",0)"; })
  .selectAll("rect").data(function(d) { return d.v.map(function(v, j) { return { s: seriesNames[j], v: v }; }); })
  .join("rect")
  .attr("x", function(d) { return cX1(d.s); })
  .attr("width", cX1.bandwidth())
  .attr("y", function(d) { return cY(d.v); })
  .attr("height", function(d) { return cY(0) - cY(d.v); })
  .attr("fill", function(d) { return cColour(d.s); });

var cAxis = svg.append("g").attr("transform", "translate(0,2235)")
  .call(d3.axisBottom(cX).tickSize(0).tickPadding(36));
cAxis.select(".domain").remove();
cAxis.selectAll("text").attr("font-family", sans).attr("font-size", 42).attr("fill", "#595959");

var legendX = [201, 388];
seriesNames.forEach(function(s, i) {
  svg.append("rect").attr("x", legendX[i]).attr("y", 2366).attr("width", 21).attr("height", 21).attr("fill", cColour(s));
  svg.append("text").attr("x", legendX[i] + 31).attr("y", 2378).attr("dy", "0.35em")
    .attr("font-family", sans).attr("font-size", 44).attr("fill", "#595959").text(s);
});

// ---- panel D
var dTitle = svg.append("text").attr("x", 1259).attr("y", 1254)
  .attr("font-family", serif).attr("font-size", 86)
  .attr("textLength", 1151).attr("lengthAdjust", "spacingAndGlyphs");
dTitle.append("tspan").text("The parameters of  PPI ");
dTitle.append("tspan").attr("font-family", narrow).text("network");

var colX = [1137, 1756, 2089];
var tableX0 = 1097, tableX1 = 2424;
svg.append("rect").attr("x", tableX0).attr("y", 1416).attr("width", tableX1 - tableX0).attr("height", 145).attr("fill", "#ffc000");
paramHeader.forEach(function(s, i) {
  svg.append("text").attr("x", colX[i]).attr("y", 1522)
    .attr("font-family", sans).attr("font-weight", "bold").attr("font-size", 80)
    .attr("fill", "#fff").text(s);
});
var rowY = d3.scaleBand().domain(paramNames).range([1561, 2104]);
var rowG = svg.append("g").selectAll("g").data(paramNames).join("g")
  .attr("transform", function(d) { return "translate(0," + rowY(d) + ")"; });
rowG.append("rect").attr("x", tableX0).attr("width", tableX1 - tableX0).attr("height", rowY.bandwidth())
  .attr("fill", function(d, i) { return i % 2 === 0 ? "#dedede" : "#efefef"; });
rowG.each(function(d, i) {
  var cells = [d, paramHFpEF[i], paramHTN[i]];
  d3.select(this).selectAll("text").data(cells).join("text")
    .attr("x", function(c, j) { return colX[j]; })
    .attr("y", rowY.bandwidth() / 2 + 19)
    .attr("font-family", sans).attr("font-size", 52).attr("fill", "#262626")
    .text(function(c) { return c; });
});

// ---- panels E and F
function degreeChart(genes, degree, x0, x1, labelX, titleCx, titleLast) {
  titleLines(["The count of  PPI", "networks of", titleLast], titleCx, [1191, 1293, 1400], 90);
  var x = d3.scaleLinear().domain([0, 70]).range([x0, x1]);
  var y = d3.scaleBand().domain(genes).range([1517, 2426]).paddingInner(0.15).paddingOuter(0.075);
  var rows = genes.map(function(g, i) { return { g: g, v: degree[i] }; });
  var g = svg.append("g");
  g.selectAll("rect").data(rows).join("rect")
    .attr("x", x(0)).attr("y", function(d) { return y(d.g); })
    .attr("width", function(d) { return x(d.v) - x(0); })
    .attr("height", y.bandwidth())
    .attr("fill", "#87ceeb").attr("stroke", "#222").attr("stroke-width", 2);
  g.selectAll("text.val").data(rows).join("text").attr("class", "val")
    .attr("transform", function(d) { return "translate(" + (x(d.v) + 3) + "," + (y(d.g) + y.bandwidth() / 2) + ") scale(0.5,1)"; })
    .attr("text-anchor", "end").attr("dy", "0.35em")
    .attr("font-family", sans).attr("font-size", 37).attr("fill", "#222")
    .text(function(d) { return d.v; });
  g.selectAll("text.cat").data(rows).join("text").attr("class", "cat")
    .attr("transform", function(d) { return "translate(" + labelX + "," + (y(d.g) + y.bandwidth() / 2) + ") scale(0.48,1)"; })
    .attr("text-anchor", "end").attr("dy", "0.35em")
    .attr("font-family", sans).attr("font-size", 35).attr("fill", "#222")
    .text(function(d) { return d.g; });
  var ax = g.append("g").attr("transform", "translate(0,2458)")
    .call(d3.axisBottom(x).tickValues(degreeTicks).tickSize(15).tickPadding(28));
  ax.selectAll("path, line").attr("stroke", "#222").attr("stroke-width", 2);
  ax.selectAll("text").attr("transform", "scale(0.48,1)")
    .attr("font-family", sans).attr("font-size", 35).attr("fill", "#222");
}
degreeChart(hfpefGenes, hfpefDegree, 2671, 3236, 2655, 2995, "HFpEF-DEPs");
degreeChart(htnGenes, htnDegree, 3528, 4092, 3510, 3898, "HTN-DEPs");
</script>
</body>
</html>
